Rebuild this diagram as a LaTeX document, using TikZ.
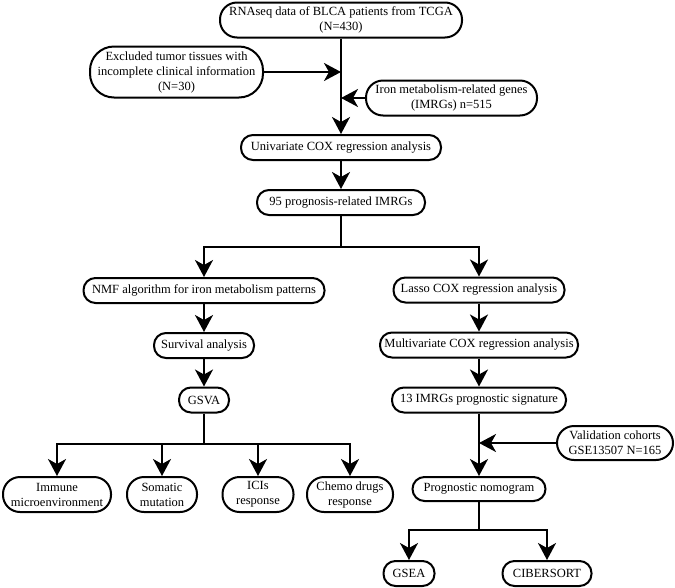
\documentclass[tikz,border=0pt]{standalone}
\usepackage{fontspec}
\setmainfont{Liberation Serif}
\usetikzlibrary{arrows.meta}
\begin{document}
\begin{tikzpicture}[x=1pt,y=-1pt,
  box/.style={draw, line width=2pt, rounded corners=12pt, inner sep=0pt, align=center,
    font=\fontsize{12.5}{15}\selectfont},
  wh/.style 2 args={minimum width=#1pt, minimum height=#2pt},
  link/.style={line width=2pt},
  arr/.style={line width=2pt, -{Stealth[length=17pt,width=18pt,inset=5pt]}}]
\useasboundingbox (0,0) rectangle (675,587);
% nodes
\node[box, wh={242}{35}, rounded corners=17pt] (top) at (341,20) {RNAseq data of BLCA patients from TCGA\\(N=430)};
\node[box, wh={173}{51}, rounded corners=24pt] (excl) at (176.5,72) {Excluded tumor tissues with\\incomplete clinical information\\(N=30)};
\node[box, wh={171}{35}, rounded corners=17pt] (iron) at (451.5,98) {Iron metabolism-related genes\\(IMRGs) n=515};
\node[box, wh={200}{25}] (univ) at (341,147.5) {Univariate COX regression analysis};
\node[box, wh={168}{25}] (p95) at (341,202.5) {95 prognosis-related IMRGs};
\node[box, wh={241}{25}] (nmf) at (204,290.5) {NMF algorithm for iron metabolism patterns};
\node[box, wh={171}{25}] (lasso) at (479,290) {Lasso COX regression analysis};
\node[box, wh={100}{25}] (surv) at (204,345.5) {Survival analysis};
\node[box, wh={198}{25}] (multi) at (479,345) {Multivariate COX regression analysis};
\node[box, wh={50}{25}] (gsva) at (204,400) {GSVA};
\node[box, wh={174}{25}] (sig) at (479,400) {13 IMRGs prognostic signature};
\node[box, wh={116}{34}, rounded corners=17pt] (valid) at (615,443) {Validation cohorts\\GSE13507 N=165};
\node[box, wh={133}{24}] (nomo) at (479,489) {Prognostic nomogram};
\node[box, wh={51}{25}] (gsea) at (409,573.5) {GSEA};
\node[box, wh={89}{25}] (cib) at (547,573.5) {CIBERSORT};
\node[box, wh={108}{35}, rounded corners=17pt] (imm) at (57,494.5) {Immune\\microenvironment};
\node[box, wh={70}{35}, rounded corners=17pt] (som) at (162,494.5) {Somatic\\mutation};
\node[box, wh={71}{35}, rounded corners=17pt] (ici) at (258,494.5) {ICIs\\response};
\node[box, wh={86}{35}, rounded corners=17pt] (chem) at (350,494.5) {Chemo drugs\\response};
% junction coordinates
\coordinate (sp) at (341,247);
\coordinate (gs) at (204,444);
\coordinate (ns) at (479,530);
% connectors
\draw[arr] (top.south) -- (univ.north);
\draw[arr] (excl.east) -- (excl.east -| top.south);
\draw[arr] (iron.west) -- (iron.west -| top.south);
\draw[arr] (univ.south) -- (p95.north);
\draw[link] (p95.south) -- (sp);
\draw[arr] (sp) -| (nmf.north);
\draw[arr] (sp) -| (lasso.north);
\draw[arr] (nmf.south) -- (surv.north);
\draw[arr] (surv.south) -- (gsva.north);
\draw[link] (gsva.south) -- (gs);
\draw[arr] (gs) -| (imm.north);
\draw[arr] (gs) -| (som.north);
\draw[arr] (gs) -| (ici.north);
\draw[arr] (gs) -| (chem.north);
\draw[arr] (lasso.south) -- (multi.north);
\draw[arr] (multi.south) -- (sig.north);
\draw[arr] (sig.south) -- (nomo.north);
\draw[arr] (valid.west) -- (valid.west -| sig.south);
\draw[link] (nomo.south) -- (ns);
\draw[arr] (ns) -| (gsea.north);
\draw[arr] (ns) -| (cib.north);
\end{tikzpicture}
\end{document}
